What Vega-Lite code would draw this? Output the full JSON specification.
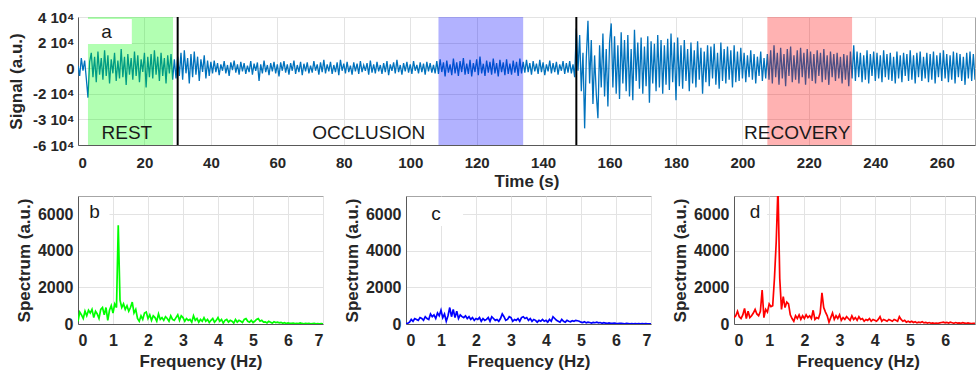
{
"$schema": "https://vega.github.io/schema/vega-lite/v6.json",
"padding": {"left": 6, "top": 9, "right": 0, "bottom": 0},
"background": "white",
"bounds": "flush",
"spacing": 51,
"config": {
  "font": "Liberation Sans",
  "view": {"stroke": "#a6a6a6", "strokeWidth": 1},
  "axis": {"labelFont": "Liberation Sans", "labelFontWeight": "bold", "labelColor": "#262626", "labelFontSize": 15, "labelOverlap": false,
           "titleFont": "Liberation Sans", "titleFontWeight": "bold", "titleColor": "#262626", "titleFontSize": 17,
           "gridColor": "#e3e3e3", "ticks": false, "tickSize": 0, "domainColor": "#595959"}
},
"datasets": {
"regions": [{"phase":"REST","start":3,"end":28.6},{"phase":"OCCLUSION","start":108.5,"end":134},{"phase":"RECOVERY","start":207.5,"end":233}],
"events": [{"t":30},{"t":150}],
"labels": [{"label":"REST","t":14.7,"v":-50600},{"label":"OCCLUSION","t":87.5,"v":-50600},{"label":"RECOVERY","t":216.5,"v":-50600}],
"sb": [{"f":0,"v":150},{"f":0.05,"v":650},{"f":0.1,"v":500},{"f":0.15,"v":300},{"f":0.2,"v":700},{"f":0.25,"v":450},{"f":0.3,"v":750},{"f":0.35,"v":600},{"f":0.4,"v":800},{"f":0.45,"v":350},{"f":0.5,"v":700},{"f":0.55,"v":550},{"f":0.6,"v":300},{"f":0.65,"v":800},{"f":0.7,"v":900},{"f":0.75,"v":500},{"f":0.8,"v":900},{"f":0.85,"v":200},{"f":0.9,"v":750},{"f":0.95,"v":1000},{"f":1,"v":600},{"f":1.05,"v":1100},{"f":1.1,"v":900},{"f":1.15,"v":5400},{"f":1.2,"v":1300},{"f":1.25,"v":900},{"f":1.3,"v":1100},{"f":1.35,"v":800},{"f":1.4,"v":1000},{"f":1.45,"v":700},{"f":1.5,"v":900},{"f":1.55,"v":1200},{"f":1.6,"v":600},{"f":1.65,"v":800},{"f":1.7,"v":300},{"f":1.75,"v":150},{"f":1.8,"v":450},{"f":1.85,"v":250},{"f":1.9,"v":600},{"f":1.95,"v":650},{"f":2,"v":300},{"f":2.05,"v":500},{"f":2.1,"v":200},{"f":2.15,"v":450},{"f":2.2,"v":350},{"f":2.25,"v":150},{"f":2.3,"v":550},{"f":2.35,"v":250},{"f":2.4,"v":350},{"f":2.45,"v":200},{"f":2.5,"v":400},{"f":2.55,"v":300},{"f":2.6,"v":150},{"f":2.65,"v":450},{"f":2.7,"v":250},{"f":2.75,"v":200},{"f":2.8,"v":350},{"f":2.85,"v":500},{"f":2.9,"v":200},{"f":2.95,"v":450},{"f":3,"v":350},{"f":3.05,"v":150},{"f":3.1,"v":300},{"f":3.15,"v":200},{"f":3.2,"v":250},{"f":3.25,"v":100},{"f":3.3,"v":450},{"f":3.35,"v":200},{"f":3.4,"v":300},{"f":3.45,"v":100},{"f":3.5,"v":250},{"f":3.55,"v":150},{"f":3.6,"v":350},{"f":3.65,"v":150},{"f":3.7,"v":250},{"f":3.75,"v":80},{"f":3.8,"v":200},{"f":3.85,"v":300},{"f":3.9,"v":100},{"f":3.95,"v":200},{"f":4,"v":350},{"f":4.05,"v":150},{"f":4.1,"v":250},{"f":4.15,"v":50},{"f":4.2,"v":200},{"f":4.25,"v":250},{"f":4.3,"v":100},{"f":4.35,"v":200},{"f":4.4,"v":150},{"f":4.45,"v":50},{"f":4.5,"v":250},{"f":4.55,"v":100},{"f":4.6,"v":200},{"f":4.65,"v":150},{"f":4.7,"v":80},{"f":4.75,"v":250},{"f":4.8,"v":300},{"f":4.85,"v":150},{"f":4.9,"v":100},{"f":4.95,"v":200},{"f":5,"v":80},{"f":5.05,"v":150},{"f":5.1,"v":250},{"f":5.15,"v":300},{"f":5.2,"v":150},{"f":5.25,"v":200},{"f":5.3,"v":100},{"f":5.35,"v":120},{"f":5.4,"v":60},{"f":5.45,"v":150},{"f":5.5,"v":100},{"f":5.55,"v":50},{"f":5.6,"v":120},{"f":5.65,"v":80},{"f":5.7,"v":100},{"f":5.75,"v":60},{"f":5.8,"v":90},{"f":5.85,"v":40},{"f":5.9,"v":70},{"f":5.95,"v":30},{"f":6,"v":60},{"f":6.05,"v":40},{"f":6.1,"v":30},{"f":6.15,"v":50},{"f":6.2,"v":20},{"f":6.25,"v":40},{"f":6.3,"v":20},{"f":6.35,"v":60},{"f":6.4,"v":30},{"f":6.45,"v":10},{"f":6.5,"v":40},{"f":6.55,"v":20},{"f":6.6,"v":30},{"f":6.65,"v":10},{"f":6.7,"v":20},{"f":6.75,"v":30},{"f":6.8,"v":10},{"f":6.85,"v":20},{"f":6.9,"v":10},{"f":6.95,"v":20},{"f":7,"v":10}],
"sc": [{"f":0,"v":20},{"f":0.05,"v":40},{"f":0.1,"v":100},{"f":0.15,"v":250},{"f":0.2,"v":150},{"f":0.25,"v":300},{"f":0.3,"v":250},{"f":0.35,"v":200},{"f":0.4,"v":350},{"f":0.45,"v":300},{"f":0.5,"v":200},{"f":0.55,"v":400},{"f":0.6,"v":300},{"f":0.65,"v":250},{"f":0.7,"v":550},{"f":0.75,"v":400},{"f":0.8,"v":500},{"f":0.85,"v":300},{"f":0.9,"v":600},{"f":0.95,"v":450},{"f":1,"v":750},{"f":1.05,"v":350},{"f":1.1,"v":550},{"f":1.15,"v":150},{"f":1.2,"v":450},{"f":1.25,"v":900},{"f":1.3,"v":400},{"f":1.35,"v":800},{"f":1.4,"v":350},{"f":1.45,"v":700},{"f":1.5,"v":300},{"f":1.55,"v":500},{"f":1.6,"v":400},{"f":1.65,"v":350},{"f":1.7,"v":450},{"f":1.75,"v":300},{"f":1.8,"v":400},{"f":1.85,"v":250},{"f":1.9,"v":350},{"f":1.95,"v":200},{"f":2,"v":300},{"f":2.05,"v":250},{"f":2.1,"v":350},{"f":2.15,"v":150},{"f":2.2,"v":300},{"f":2.25,"v":200},{"f":2.3,"v":250},{"f":2.35,"v":350},{"f":2.4,"v":150},{"f":2.45,"v":400},{"f":2.5,"v":300},{"f":2.55,"v":200},{"f":2.6,"v":250},{"f":2.65,"v":150},{"f":2.7,"v":300},{"f":2.75,"v":550},{"f":2.8,"v":400},{"f":2.85,"v":200},{"f":2.9,"v":250},{"f":2.95,"v":400},{"f":3,"v":350},{"f":3.05,"v":150},{"f":3.1,"v":250},{"f":3.15,"v":200},{"f":3.2,"v":300},{"f":3.25,"v":150},{"f":3.3,"v":350},{"f":3.35,"v":400},{"f":3.4,"v":300},{"f":3.45,"v":350},{"f":3.5,"v":200},{"f":3.55,"v":300},{"f":3.6,"v":150},{"f":3.65,"v":250},{"f":3.7,"v":200},{"f":3.75,"v":100},{"f":3.8,"v":200},{"f":3.85,"v":150},{"f":3.9,"v":250},{"f":3.95,"v":150},{"f":4,"v":200},{"f":4.05,"v":100},{"f":4.1,"v":250},{"f":4.15,"v":150},{"f":4.2,"v":400},{"f":4.25,"v":300},{"f":4.3,"v":200},{"f":4.35,"v":150},{"f":4.4,"v":100},{"f":4.45,"v":250},{"f":4.5,"v":150},{"f":4.55,"v":100},{"f":4.6,"v":200},{"f":4.65,"v":150},{"f":4.7,"v":120},{"f":4.75,"v":180},{"f":4.8,"v":150},{"f":4.85,"v":200},{"f":4.9,"v":180},{"f":4.95,"v":150},{"f":5,"v":100},{"f":5.05,"v":80},{"f":5.1,"v":120},{"f":5.15,"v":60},{"f":5.2,"v":100},{"f":5.25,"v":80},{"f":5.3,"v":50},{"f":5.35,"v":90},{"f":5.4,"v":70},{"f":5.45,"v":100},{"f":5.5,"v":60},{"f":5.55,"v":80},{"f":5.6,"v":40},{"f":5.65,"v":70},{"f":5.7,"v":50},{"f":5.75,"v":30},{"f":5.8,"v":60},{"f":5.85,"v":40},{"f":5.9,"v":30},{"f":5.95,"v":50},{"f":6,"v":30},{"f":6.05,"v":20},{"f":6.1,"v":40},{"f":6.15,"v":30},{"f":6.2,"v":20},{"f":6.25,"v":10},{"f":6.3,"v":30},{"f":6.35,"v":20},{"f":6.4,"v":10},{"f":6.45,"v":20},{"f":6.5,"v":10},{"f":6.55,"v":20},{"f":6.6,"v":10},{"f":6.65,"v":20},{"f":6.7,"v":10},{"f":6.75,"v":20},{"f":6.8,"v":10},{"f":6.85,"v":20},{"f":6.9,"v":10},{"f":6.95,"v":10},{"f":7,"v":10}],
"sd": [{"f":0,"v":350},{"f":0.05,"v":450},{"f":0.1,"v":700},{"f":0.15,"v":400},{"f":0.2,"v":300},{"f":0.25,"v":500},{"f":0.3,"v":850},{"f":0.35,"v":300},{"f":0.4,"v":700},{"f":0.45,"v":350},{"f":0.5,"v":450},{"f":0.55,"v":600},{"f":0.6,"v":800},{"f":0.65,"v":550},{"f":0.7,"v":450},{"f":0.75,"v":700},{"f":0.8,"v":1850},{"f":0.85,"v":350},{"f":0.9,"v":800},{"f":0.95,"v":650},{"f":1,"v":1100},{"f":1.05,"v":950},{"f":1.1,"v":1000},{"f":1.15,"v":2500},{"f":1.2,"v":4500},{"f":1.25,"v":7500},{"f":1.3,"v":2500},{"f":1.35,"v":800},{"f":1.4,"v":1500},{"f":1.45,"v":900},{"f":1.5,"v":1200},{"f":1.55,"v":1100},{"f":1.6,"v":500},{"f":1.65,"v":300},{"f":1.7,"v":150},{"f":1.75,"v":450},{"f":1.8,"v":300},{"f":1.85,"v":500},{"f":1.9,"v":250},{"f":1.95,"v":450},{"f":2,"v":300},{"f":2.05,"v":500},{"f":2.1,"v":350},{"f":2.15,"v":450},{"f":2.2,"v":300},{"f":2.25,"v":750},{"f":2.3,"v":250},{"f":2.35,"v":350},{"f":2.4,"v":300},{"f":2.45,"v":600},{"f":2.5,"v":1700},{"f":2.55,"v":900},{"f":2.6,"v":650},{"f":2.65,"v":450},{"f":2.7,"v":100},{"f":2.75,"v":350},{"f":2.8,"v":600},{"f":2.85,"v":250},{"f":2.9,"v":450},{"f":2.95,"v":300},{"f":3,"v":500},{"f":3.05,"v":200},{"f":3.1,"v":350},{"f":3.15,"v":250},{"f":3.2,"v":400},{"f":3.25,"v":300},{"f":3.3,"v":200},{"f":3.35,"v":450},{"f":3.4,"v":250},{"f":3.45,"v":350},{"f":3.5,"v":200},{"f":3.55,"v":400},{"f":3.6,"v":250},{"f":3.65,"v":300},{"f":3.7,"v":150},{"f":3.75,"v":250},{"f":3.8,"v":200},{"f":3.85,"v":300},{"f":3.9,"v":150},{"f":3.95,"v":250},{"f":4,"v":200},{"f":4.05,"v":150},{"f":4.1,"v":250},{"f":4.15,"v":400},{"f":4.2,"v":150},{"f":4.25,"v":250},{"f":4.3,"v":200},{"f":4.35,"v":150},{"f":4.4,"v":250},{"f":4.45,"v":200},{"f":4.5,"v":150},{"f":4.55,"v":250},{"f":4.6,"v":200},{"f":4.65,"v":150},{"f":4.7,"v":400},{"f":4.75,"v":250},{"f":4.8,"v":150},{"f":4.85,"v":200},{"f":4.9,"v":100},{"f":4.95,"v":150},{"f":5,"v":100},{"f":5.05,"v":150},{"f":5.1,"v":80},{"f":5.15,"v":120},{"f":5.2,"v":60},{"f":5.25,"v":100},{"f":5.3,"v":80},{"f":5.35,"v":120},{"f":5.4,"v":60},{"f":5.45,"v":90},{"f":5.5,"v":50},{"f":5.55,"v":80},{"f":5.6,"v":40},{"f":5.65,"v":60},{"f":5.7,"v":30},{"f":5.75,"v":50},{"f":5.8,"v":40},{"f":5.85,"v":60},{"f":5.9,"v":80},{"f":5.95,"v":100},{"f":6,"v":60},{"f":6.05,"v":90},{"f":6.1,"v":50},{"f":6.15,"v":100},{"f":6.2,"v":70},{"f":6.25,"v":40},{"f":6.3,"v":80},{"f":6.35,"v":50},{"f":6.4,"v":60},{"f":6.45,"v":40},{"f":6.5,"v":70},{"f":6.55,"v":50},{"f":6.6,"v":30},{"f":6.65,"v":60},{"f":6.7,"v":40},{"f":6.75,"v":20},{"f":6.8,"v":40},{"f":6.85,"v":30},{"f":6.9,"v":20},{"f":6.95,"v":30},{"f":7,"v":20}],
"sig": [{"t":0,"v":2000},{"t":0.5,"v":-6000},{"t":1,"v":8000},{"t":1.5,"v":-2000},{"t":2,"v":6000},{"t":2.5,"v":-8000},{"t":3,"v":-23000},
{"t":3.5,"v":5000},{"t":4,"v":12000},{"t":4.5,"v":-7000},{"t":5,"v":9000},{"t":5.5,"v":-11000},{"t":6,"v":13000},{"t":6.5,"v":-5000},{"t":7,"v":8000},{"t":7.5,"v":-9000},{"t":8,"v":14000},{"t":8.5,"v":-6000},{"t":9,"v":10000},{"t":9.5,"v":-12000},{"t":10,"v":7000},{"t":10.5,"v":-4000},{"t":11,"v":12000},{"t":11.5,"v":-10000},{"t":12,"v":6000},{"t":12.5,"v":-8000},{"t":13,"v":15000},{"t":13.5,"v":-7000},{"t":14,"v":9000},{"t":14.5,"v":-13000},{"t":15,"v":11000},{"t":15.5,"v":-5000},{"t":16,"v":8000},{"t":16.5,"v":-9000},{"t":17,"v":13000},{"t":17.5,"v":-6000},{"t":18,"v":10000},{"t":18.5,"v":-11000},{"t":19,"v":7000},{"t":19.5,"v":-3000},{"t":20,"v":12000},{"t":20.5,"v":-15000},{"t":21,"v":9000},{"t":21.5,"v":-7000},{"t":22,"v":11000},{"t":22.5,"v":-8000},{"t":23,"v":14000},{"t":23.5,"v":-5000},{"t":24,"v":9000},{"t":24.5,"v":-10000},{"t":25,"v":12000},{"t":25.5,"v":-6000},{"t":26,"v":8000},{"t":26.5,"v":-12000},{"t":27,"v":10000},{"t":27.5,"v":-4000},{"t":28,"v":11000},{"t":28.5,"v":-9000},{"t":29,"v":7000},{"t":29.5,"v":-8000},
{"t":30,"v":9000},{"t":30.5,"v":-6000},{"t":31,"v":12000},{"t":31.5,"v":-9000},{"t":32,"v":14000},{"t":32.5,"v":-4000},{"t":33,"v":8000},{"t":33.5,"v":-12000},{"t":34,"v":11000},{"t":34.5,"v":-7000},{"t":35,"v":13000},{"t":35.5,"v":-5000},{"t":36,"v":9000},{"t":36.5,"v":-10000},{"t":37,"v":7000},{"t":37.5,"v":-3000},{"t":38,"v":10000},{"t":38.5,"v":-8000},{"t":39,"v":6000},{"t":39.5,"v":-6000},
{"t":40,"v":5000},{"t":40.5,"v":-4000},{"t":41,"v":6000},{"t":41.5,"v":-3000},{"t":42,"v":4000},{"t":42.5,"v":-5500},{"t":43,"v":3000},{"t":43.5,"v":-2000},{"t":44,"v":5500},{"t":44.5,"v":-4000},{"t":45,"v":2500},{"t":45.5,"v":-6000},{"t":46,"v":4500},{"t":46.5,"v":-1500},{"t":47,"v":6000},{"t":47.5,"v":-3500},{"t":48,"v":3000},{"t":48.5,"v":-5000},{"t":49,"v":5000},{"t":49.5,"v":-2500},{"t":50,"v":4000},{"t":50.5,"v":-4500},{"t":51,"v":2000},{"t":51.5,"v":-3000},{"t":52,"v":5500},{"t":52.5,"v":-5000},{"t":53,"v":3500},{"t":53.5,"v":-2000},{"t":54,"v":4500},{"t":54.5,"v":-10000},{"t":55,"v":3000},{"t":55.5,"v":-4000},{"t":56,"v":6000},{"t":56.5,"v":-3000},{"t":57,"v":2500},{"t":57.5,"v":-5500},{"t":58,"v":4000},{"t":58.5,"v":-2500},{"t":59,"v":5000},{"t":59.5,"v":-4000},{"t":60,"v":3000},{"t":60.5,"v":-6500},{"t":61,"v":4500},{"t":61.5,"v":-2000},{"t":62,"v":5500},{"t":62.5,"v":-3500},{"t":63,"v":3000},{"t":63.5,"v":-5000},{"t":64,"v":4000},{"t":64.5,"v":-2000},{"t":65,"v":6000},{"t":65.5,"v":-4500},{"t":66,"v":2500},{"t":66.5,"v":-3000},{"t":67,"v":5000},{"t":67.5,"v":-5500},{"t":68,"v":3500},{"t":68.5,"v":-2500},{"t":69,"v":4500},{"t":69.5,"v":-4000},{"t":70,"v":2000},{"t":70.5,"v":-3500},{"t":71,"v":5500},{"t":71.5,"v":-2000},{"t":72,"v":3000},{"t":72.5,"v":-5000},{"t":73,"v":4500},{"t":73.5,"v":-3000},{"t":74,"v":6500},{"t":74.5,"v":-4000},{"t":75,"v":3000},{"t":75.5,"v":-2500},{"t":76,"v":5000},{"t":76.5,"v":-4500},{"t":77,"v":2500},{"t":77.5,"v":-3000},{"t":78,"v":4500},{"t":78.5,"v":-5500},{"t":79,"v":6500},{"t":79.5,"v":-2000},{"t":80,"v":3500},{"t":80.5,"v":-4000},{"t":81,"v":5000},{"t":81.5,"v":-3000},{"t":82,"v":2000},{"t":82.5,"v":-5000},{"t":83,"v":4500},{"t":83.5,"v":-2500},{"t":84,"v":3500},{"t":84.5,"v":-4500},{"t":85,"v":5500},{"t":85.5,"v":-3000},{"t":86,"v":2500},{"t":86.5,"v":-2000},{"t":87,"v":4000},{"t":87.5,"v":-5000},{"t":88,"v":6000},{"t":88.5,"v":-3500},{"t":89,"v":3000},{"t":89.5,"v":-4000},{"t":90,"v":5000},{"t":90.5,"v":-2500},{"t":91,"v":2500},{"t":91.5,"v":-4500},{"t":92,"v":4000},{"t":92.5,"v":-3000},{"t":93,"v":5500},{"t":93.5,"v":-5500},{"t":94,"v":3000},{"t":94.5,"v":-2000},{"t":95,"v":4500},{"t":95.5,"v":-4000},{"t":96,"v":6500},{"t":96.5,"v":-3000},{"t":97,"v":2500},{"t":97.5,"v":-5000},{"t":98,"v":4000},{"t":98.5,"v":-2500},{"t":99,"v":5000},{"t":99.5,"v":-3500},{"t":100,"v":3000},{"t":100.5,"v":-4500},{"t":101,"v":5500},{"t":101.5,"v":-2000},{"t":102,"v":2500},{"t":102.5,"v":-4000},{"t":103,"v":4500},{"t":103.5,"v":-3000},{"t":104,"v":3500},{"t":104.5,"v":-5000},{"t":105,"v":5000},{"t":105.5,"v":-2500},{"t":106,"v":4000},{"t":106.5,"v":-3500},{"t":107,"v":2500},{"t":107.5,"v":-4000},
{"t":108,"v":5500},{"t":108.5,"v":-4500},{"t":109,"v":7000},{"t":109.5,"v":-3000},{"t":110,"v":4500},{"t":110.5,"v":-6500},{"t":111,"v":6000},{"t":111.5,"v":-3500},{"t":112,"v":3000},{"t":112.5,"v":-5500},{"t":113,"v":7500},{"t":113.5,"v":-4000},{"t":114,"v":4500},{"t":114.5,"v":-6000},{"t":115,"v":5500},{"t":115.5,"v":-3000},{"t":116,"v":8000},{"t":116.5,"v":-5000},{"t":117,"v":3500},{"t":117.5,"v":-4500},{"t":118,"v":6500},{"t":118.5,"v":-6500},{"t":119,"v":4000},{"t":119.5,"v":-3000},{"t":120,"v":7000},{"t":120.5,"v":-5500},{"t":121,"v":9000},{"t":121.5,"v":-4000},{"t":122,"v":3500},{"t":122.5,"v":-6000},{"t":123,"v":6000},{"t":123.5,"v":-3500},{"t":124,"v":5000},{"t":124.5,"v":-5000},{"t":125,"v":7500},{"t":125.5,"v":-4000},{"t":126,"v":4000},{"t":126.5,"v":-6500},{"t":127,"v":6500},{"t":127.5,"v":-3000},{"t":128,"v":4500},{"t":128.5,"v":-5500},{"t":129,"v":7000},{"t":129.5,"v":-4500},{"t":130,"v":3500},{"t":130.5,"v":-5000},{"t":131,"v":6000},{"t":131.5,"v":-3500},{"t":132,"v":5000},{"t":132.5,"v":-6000},{"t":133,"v":7500},{"t":133.5,"v":-4000},
{"t":134,"v":5000},{"t":134.5,"v":-3500},{"t":135,"v":6500},{"t":135.5,"v":-3000},{"t":136,"v":4000},{"t":136.5,"v":-5000},{"t":137,"v":5500},{"t":137.5,"v":-2500},{"t":138,"v":3500},{"t":138.5,"v":-4500},{"t":139,"v":6500},{"t":139.5,"v":-3000},{"t":140,"v":4500},{"t":140.5,"v":-5500},{"t":141,"v":3000},{"t":141.5,"v":-2500},{"t":142,"v":6000},{"t":142.5,"v":-4000},{"t":143,"v":4000},{"t":143.5,"v":-3000},{"t":144,"v":5000},{"t":144.5,"v":-5000},{"t":145,"v":3000},{"t":145.5,"v":-2000},{"t":146,"v":5500},{"t":146.5,"v":-4500},{"t":147,"v":4000},{"t":147.5,"v":-3500},{"t":148,"v":5500},{"t":148.5,"v":-4000},{"t":149,"v":3000},{"t":149.5,"v":-7000},
{"t":150,"v":31000},{"t":150.5,"v":-2000},{"t":151,"v":26000},{"t":151.5,"v":-18000},{"t":152,"v":12000},{"t":152.5,"v":-47000},{"t":153,"v":8000},{"t":153.5,"v":37000},{"t":154,"v":-12000},{"t":154.5,"v":22000},{"t":155,"v":-28000},{"t":155.5,"v":10000},{"t":156,"v":-20000},{"t":156.5,"v":-39000},{"t":157,"v":18000},{"t":157.5,"v":-15000},{"t":158,"v":27000},{"t":158.5,"v":-22000},{"t":159,"v":15000},{"t":159.5,"v":-30000},{"t":160,"v":20000},{"t":160.5,"v":35000},
{"t":161,"v":-15000},{"t":161.5,"v":25000},{"t":162,"v":-20000},{"t":162.5,"v":18000},{"t":163,"v":-24000},{"t":163.5,"v":28000},{"t":164,"v":-12000},{"t":164.5,"v":22000},{"t":165,"v":-18000},{"t":165.5,"v":26000},{"t":166,"v":-22000},{"t":166.5,"v":15000},{"t":167,"v":-25000},{"t":167.5,"v":30000},{"t":168,"v":-10000},{"t":168.5,"v":20000},{"t":169,"v":-16000},{"t":169.5,"v":24000},{"t":170,"v":-20000},{"t":170.5,"v":17000},{"t":171,"v":-14000},{"t":171.5,"v":25000},{"t":172,"v":-27000},{"t":172.5,"v":21000},{"t":173,"v":-12000},{"t":173.5,"v":19000},{"t":174,"v":-18000},{"t":174.5,"v":26000},{"t":175,"v":-15000},{"t":175.5,"v":22000},{"t":176,"v":-20000},{"t":176.5,"v":18000},{"t":177,"v":-13000},{"t":177.5,"v":23000},{"t":178,"v":-17000},{"t":178.5,"v":27000},{"t":179,"v":-11000},{"t":179.5,"v":20000},{"t":180,"v":-25000},{"t":180.5,"v":24000},
{"t":181,"v":-14000},{"t":181.5,"v":18000},{"t":182,"v":-16000},{"t":182.5,"v":22000},{"t":183,"v":-10000},{"t":183.5,"v":15000},{"t":184,"v":-18000},{"t":184.5,"v":20000},{"t":185,"v":-12000},{"t":185.5,"v":14000},{"t":186,"v":-15000},{"t":186.5,"v":21000},{"t":187,"v":-9000},{"t":187.5,"v":16000},{"t":188,"v":-20000},{"t":188.5,"v":13000},{"t":189,"v":-11000},{"t":189.5,"v":18000},{"t":190,"v":-14000},{"t":190.5,"v":17000},{"t":191,"v":-8000},{"t":191.5,"v":19000},{"t":192,"v":-13000},{"t":192.5,"v":12000},{"t":193,"v":-16000},{"t":193.5,"v":20000},{"t":194,"v":-10000},{"t":194.5,"v":15000},{"t":195,"v":-12000},{"t":195.5,"v":17000},{"t":196,"v":-9000},{"t":196.5,"v":14000},{"t":197,"v":-15000},{"t":197.5,"v":18000},{"t":198,"v":-11000},{"t":198.5,"v":13000},{"t":199,"v":-10000},{"t":199.5,"v":16000},
{"t":200,"v":-8000},{"t":200.5,"v":12000},{"t":201,"v":-11000},{"t":201.5,"v":10000},{"t":202,"v":-7000},{"t":202.5,"v":14000},{"t":203,"v":-9000},{"t":203.5,"v":11000},{"t":204,"v":-12000},{"t":204.5,"v":9000},{"t":205,"v":-6000},{"t":205.5,"v":13000},{"t":206,"v":-10000},{"t":206.5,"v":8000},{"t":207,"v":-8000},{"t":207.5,"v":11000},
{"t":208,"v":-9000},{"t":208.5,"v":14000},{"t":209,"v":-12000},{"t":209.5,"v":18000},{"t":210,"v":-7000},{"t":210.5,"v":12000},{"t":211,"v":-13000},{"t":211.5,"v":16000},{"t":212,"v":-8000},{"t":212.5,"v":11000},{"t":213,"v":-14000},{"t":213.5,"v":15000},{"t":214,"v":-6000},{"t":214.5,"v":17000},{"t":215,"v":-11000},{"t":215.5,"v":10000},{"t":216,"v":-9000},{"t":216.5,"v":14000},{"t":217,"v":-12000},{"t":217.5,"v":16000},{"t":218,"v":-7000},{"t":218.5,"v":12000},{"t":219,"v":-13000},{"t":219.5,"v":15000},{"t":220,"v":-8000},{"t":220.5,"v":13000},{"t":221,"v":-10000},{"t":221.5,"v":11000},{"t":222,"v":-12000},{"t":222.5,"v":14000},{"t":223,"v":-6000},{"t":223.5,"v":12000},{"t":224,"v":-11000},{"t":224.5,"v":15000},{"t":225,"v":-9000},{"t":225.5,"v":10000},{"t":226,"v":-13000},{"t":226.5,"v":13000},{"t":227,"v":-7000},{"t":227.5,"v":11000},{"t":228,"v":-10000},{"t":228.5,"v":12000},{"t":229,"v":-8000},{"t":229.5,"v":9000},{"t":230,"v":-12000},{"t":230.5,"v":11000},{"t":231,"v":-9000},{"t":231.5,"v":10000},{"t":232,"v":-14000},{"t":232.5,"v":13000},
{"t":233,"v":-8000},{"t":233.5,"v":18000},{"t":234,"v":-10000},{"t":234.5,"v":13000},{"t":235,"v":-7000},{"t":235.5,"v":12000},{"t":236,"v":-11000},{"t":236.5,"v":10000},{"t":237,"v":-9000},{"t":237.5,"v":14000},{"t":238,"v":-12000},{"t":238.5,"v":11000},{"t":239,"v":-6000},{"t":239.5,"v":13000},{"t":240,"v":-10000},{"t":240.5,"v":12000},{"t":241,"v":-8000},{"t":241.5,"v":10000},{"t":242,"v":-11000},{"t":242.5,"v":14000},{"t":243,"v":-7000},{"t":243.5,"v":11000},{"t":244,"v":-9000},{"t":244.5,"v":12000},{"t":245,"v":-10000},{"t":245.5,"v":9000},{"t":246,"v":-12000},{"t":246.5,"v":13000},{"t":247,"v":-8000},{"t":247.5,"v":10000},{"t":248,"v":-11000},{"t":248.5,"v":12000},{"t":249,"v":-6000},{"t":249.5,"v":11000},{"t":250,"v":-10000},{"t":250.5,"v":14000},{"t":251,"v":-9000},{"t":251.5,"v":10000},{"t":252,"v":-12000},{"t":252.5,"v":12000},{"t":253,"v":-7000},{"t":253.5,"v":13000},{"t":254,"v":-10000},{"t":254.5,"v":9000},{"t":255,"v":-8000},{"t":255.5,"v":12000},{"t":256,"v":-11000},{"t":256.5,"v":11000},{"t":257,"v":-9000},{"t":257.5,"v":13000},{"t":258,"v":-12000},{"t":258.5,"v":10000},{"t":259,"v":-7000},{"t":259.5,"v":12000},{"t":260,"v":-10000},{"t":260.5,"v":14000},{"t":261,"v":-8000},{"t":261.5,"v":11000},{"t":262,"v":-11000},{"t":262.5,"v":10000},{"t":263,"v":-9000},{"t":263.5,"v":13000},{"t":264,"v":-12000},{"t":264.5,"v":12000},{"t":265,"v":-7000},{"t":265.5,"v":11000},{"t":266,"v":-10000},{"t":266.5,"v":9000},{"t":267,"v":-13000},{"t":267.5,"v":12000},{"t":268,"v":-8000},{"t":268.5,"v":13000},{"t":269,"v":-10000},{"t":269.5,"v":11000},{"t":270,"v":-9000}]
},
"vconcat": [
{
  "width": 897, "height": 128,
  "layer": [
    {"data": {"name": "sig"},
     "mark": {"type": "line", "color": "#0072BD", "strokeWidth": 1.3, "clip": true},
     "encoding": {
       "x": {"field": "t", "type": "quantitative", "scale": {"domain": [0, 270], "nice": false, "zero": false},
             "axis": {"values": [0,20,40,60,80,100,120,140,160,180,200,220,240,260], "tickCount": 30, "format": "d", "labelOverlap": false, "title": "Time (s)", "labelPadding": 10, "titleY": 36, "titleBaseline": "middle"}},
       "y": {"field": "v", "type": "quantitative", "scale": {"domain": [-60000, 40000], "nice": false},
             "axis": {"values": [-60000,-40000,-20000,0,20000,40000], "tickCount": 20, "labelOverlap": false, "title": "Signal (a.u.)", "labelPadding": 4, "titleX": -62, "titleBaseline": "middle",
                      "labelExpr": "datum.value == 0 ? '0' : datum.value == 40000 ? '4 10⁴' : datum.value == 20000 ? '2 10⁴' : datum.value == -20000 ? '-2 10⁴' : datum.value == -40000 ? '-3 10⁴' : '-6 10⁴'"}}
     }},
    {"data": {"name": "regions"},
     "mark": {"type": "rect", "opacity": 0.3},
     "encoding": {
       "x": {"field": "start", "type": "quantitative"},
       "x2": {"field": "end"},
       "color": {"field": "phase", "type": "nominal", "scale": {"domain": ["REST","OCCLUSION","RECOVERY"], "range": ["#00ff00","#0000ff","#ff0000"]}, "legend": null}
     }},
    {"data": {"name": "events"},
     "mark": {"type": "rule", "color": "#000000", "strokeWidth": 2},
     "encoding": {"x": {"field": "t", "type": "quantitative"}}},
    {"data": {"values": [{}]},
     "mark": {"type": "rect", "color": "#ffffff", "opacity": 1},
     "encoding": {"x": {"datum": 0.3}, "x2": {"datum": 16.2}, "y": {"datum": 18900}, "y2": {"datum": 38400}}},
    {"data": {"values": [{"label": "a"}]},
     "mark": {"type": "text", "font": "Liberation Sans", "fontSize": 19, "color": "#1a1a1a", "baseline": "middle"},
     "encoding": {"x": {"datum": 8.6}, "y": {"datum": 28000}, "text": {"field": "label"}}},
    {"data": {"name": "labels"},
     "mark": {"type": "text", "font": "Liberation Sans", "fontSize": 19, "color": "#1a1a1a", "baseline": "middle"},
     "encoding": {"x": {"field": "t", "type": "quantitative"}, "y": {"field": "v", "type": "quantitative"}, "text": {"field": "label"}}}
  ]
},
{
  "hconcat": [
    {
      "width": 245, "height": 128,
      "layer": [
        {"data": {"name": "sb"},
         "mark": {"type": "line", "color": "#00ff00", "strokeWidth": 1.7, "clip": true},
         "encoding": {
           "x": {"field": "f", "type": "quantitative", "scale": {"domain": [0, 7], "nice": false},
                 "axis": {"values": [0,1,2,3,4,5,6,7], "tickCount": 20, "format": "d", "labelOverlap": false, "title": "Frequency (Hz)", "labelPadding": 8, "titleY": 37, "titleBaseline": "middle", "labelFontSize": 16}},
           "y": {"field": "v", "type": "quantitative", "scale": {"domain": [0, 7000], "nice": false},
                 "axis": {"values": [0,2000,4000,6000], "tickCount": 20, "labelOverlap": false, "format": "d", "title": "Spectrum (a.u.)", "labelPadding": 5, "titleX": -54, "titleBaseline": "middle", "labelFontSize": 16}}
         }},
        {"data": {"values": [{}]},
         "mark": {"type": "rect", "color": "#ffffff"},
         "encoding": {"x": {"datum": 0.03}, "x2": {"datum": 0.9}, "y": {"datum": 5200}, "y2": {"datum": 6950}}},
        {"data": {"values": [{"label": "b"}]},
         "mark": {"type": "text", "font": "Liberation Sans", "fontSize": 19, "color": "#1a1a1a", "baseline": "middle"},
         "encoding": {"x": {"datum": 0.47}, "y": {"datum": 6100}, "text": {"field": "label"}}}
      ]
    },
    {
      "width": 245, "height": 128,
      "layer": [
        {"data": {"name": "sc"},
         "mark": {"type": "line", "color": "#0000ff", "strokeWidth": 1.7, "clip": true},
         "encoding": {
           "x": {"field": "f", "type": "quantitative", "scale": {"domain": [0, 7], "nice": false},
                 "axis": {"values": [0,1,2,3,4,5,6,7], "tickCount": 20, "format": "d", "labelOverlap": false, "title": "Frequency (Hz)", "labelPadding": 8, "titleY": 37, "titleBaseline": "middle", "labelFontSize": 16}},
           "y": {"field": "v", "type": "quantitative", "scale": {"domain": [0, 7000], "nice": false},
                 "axis": {"values": [0,2000,4000,6000], "tickCount": 20, "labelOverlap": false, "format": "d", "title": "Spectrum (a.u.)", "labelPadding": 5, "titleX": -54, "titleBaseline": "middle", "labelFontSize": 16}}
         }},
        {"data": {"values": [{}]},
         "mark": {"type": "rect", "color": "#ffffff"},
         "encoding": {"x": {"datum": 0.03}, "x2": {"datum": 1.63}, "y": {"datum": 5360}, "y2": {"datum": 6950}}},
        {"data": {"values": [{"label": "c"}]},
         "mark": {"type": "text", "font": "Liberation Sans", "fontSize": 19, "color": "#1a1a1a", "baseline": "middle"},
         "encoding": {"x": {"datum": 0.86}, "y": {"datum": 6000}, "text": {"field": "label"}}}
      ]
    },
    {
      "width": 241, "height": 128,
      "layer": [
        {"data": {"name": "sd"},
         "mark": {"type": "line", "color": "#ff0000", "strokeWidth": 1.7, "clip": true},
         "encoding": {
           "x": {"field": "f", "type": "quantitative", "scale": {"domain": [0, 6.85], "nice": false},
                 "axis": {"values": [0,1,2,3,4,5,6], "tickCount": 20, "format": "d", "labelOverlap": false, "title": "Frequency (Hz)", "labelPadding": 8, "titleY": 37, "titleBaseline": "middle", "labelFontSize": 16, "titleX": 124}},
           "y": {"field": "v", "type": "quantitative", "scale": {"domain": [0, 7000], "nice": false},
                 "axis": {"values": [0,2000,4000,6000], "tickCount": 20, "labelOverlap": false, "format": "d", "title": "Spectrum (a.u.)", "labelPadding": 5, "titleX": -54, "titleBaseline": "middle", "labelFontSize": 16}}
         }},
        {"data": {"values": [{}]},
         "mark": {"type": "rect", "color": "#ffffff"},
         "encoding": {"x": {"datum": 0.03}, "x2": {"datum": 0.94}, "y": {"datum": 5300}, "y2": {"datum": 6950}}},
        {"data": {"values": [{"label": "d"}]},
         "mark": {"type": "text", "font": "Liberation Sans", "fontSize": 19, "color": "#1a1a1a", "baseline": "middle"},
         "encoding": {"x": {"datum": 0.6}, "y": {"datum": 6100}, "text": {"field": "label"}}}
      ]
    }
  ],
  "spacing": 83,
  "bounds": "flush"
}
]
}
